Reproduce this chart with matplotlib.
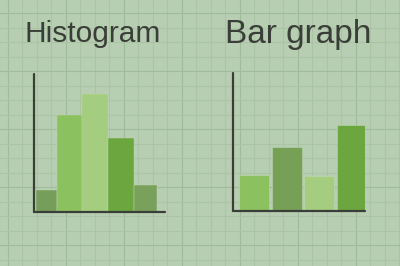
import matplotlib
matplotlib.use("Agg")
import matplotlib.pyplot as plt
import numpy as np

# ---------------- data ----------------
titles = ["Histogram", "Bar graph"]

hist_edges = [0.1, 1.15, 2.4, 3.7, 5.0, 6.15]
hist_counts = [22, 97, 118, 74, 27]
hist_colors = ["#769e5b", "#8cc15f", "#a5cd80", "#6ba63e", "#7aa15c"]

bar_categories = ["A", "B", "C", "D"]
bar_values = [36, 64, 35, 86]
bar_colors = ["#8cc15f", "#76a055", "#a5cd80", "#6ba63e"]

# ---------------- style ----------------
BG = "#b8ceb2"
GRID_MINOR = "#aac4a4"
GRID_MAJOR = "#a0bb9a"
INK = "#3a3e38"
W, H = 400, 266

fig = plt.figure(figsize=(W / 100, H / 100), dpi=100, facecolor=BG)

# background grid paper
bg = fig.add_axes([0, 0, 1, 1], zorder=0)
bg.set_xlim(0, W)
bg.set_ylim(H, 0)
bg.set_facecolor(BG)
bg.axis("off")
step = 14.5
for i, x in enumerate(np.arange(7.5, W, step)):
    bg.axvline(x, color=GRID_MAJOR if i % 4 == 0 else GRID_MINOR, lw=0.8, zorder=0)
for i, y in enumerate(np.arange(13, H, step)):
    bg.axhline(y, color=GRID_MAJOR if i % 4 == 0 else GRID_MINOR, lw=0.8, zorder=0)


def px_axes(x0, y_top, x1, y_bot):
    return fig.add_axes([x0 / W, (H - y_bot) / H, (x1 - x0) / W, (y_bot - y_top) / H], zorder=2)


def style(ax):
    ax.patch.set_alpha(0)
    for s in ("top", "right"):
        ax.spines[s].set_visible(False)
    for s in ("left", "bottom"):
        ax.spines[s].set_color(INK)
        ax.spines[s].set_linewidth(1.6)
        ax.spines[s].set_capstyle("round")
    ax.set_xticks([])
    ax.set_yticks([])


# histogram
ax1 = px_axes(34, 74, 165, 212)
style(ax1)
ax1.set_xlim(0, 6.55)
ax1.set_ylim(0, 138)
widths = np.diff(hist_edges)
ax1.bar(hist_edges[:-1], hist_counts, width=widths, align="edge",
        color=hist_colors, edgecolor="#bfd6b2", linewidth=0.3)

# bar graph
ax2 = px_axes(233, 73, 365, 211)
style(ax2)
xpos = np.arange(len(bar_categories))
ax2.bar(xpos, bar_values, width=0.92, color=bar_colors,
        edgecolor="#bfd6b2", linewidth=0.4)
ax2.set_xlim(-0.66, 3.42)
ax2.set_ylim(0, 138)

# titles
fam = ["Liberation Sans", "DejaVu Sans"]
fig.text(93 / W, (H - 42) / H, titles[0], ha="center", va="baseline",
         fontsize=21.5, color=INK, family=fam)
fig.text(298 / W, (H - 43) / H, titles[1], ha="center", va="baseline",
         fontsize=24, color=INK, family=fam)

fig.savefig("out.png", dpi=100, facecolor=BG)
